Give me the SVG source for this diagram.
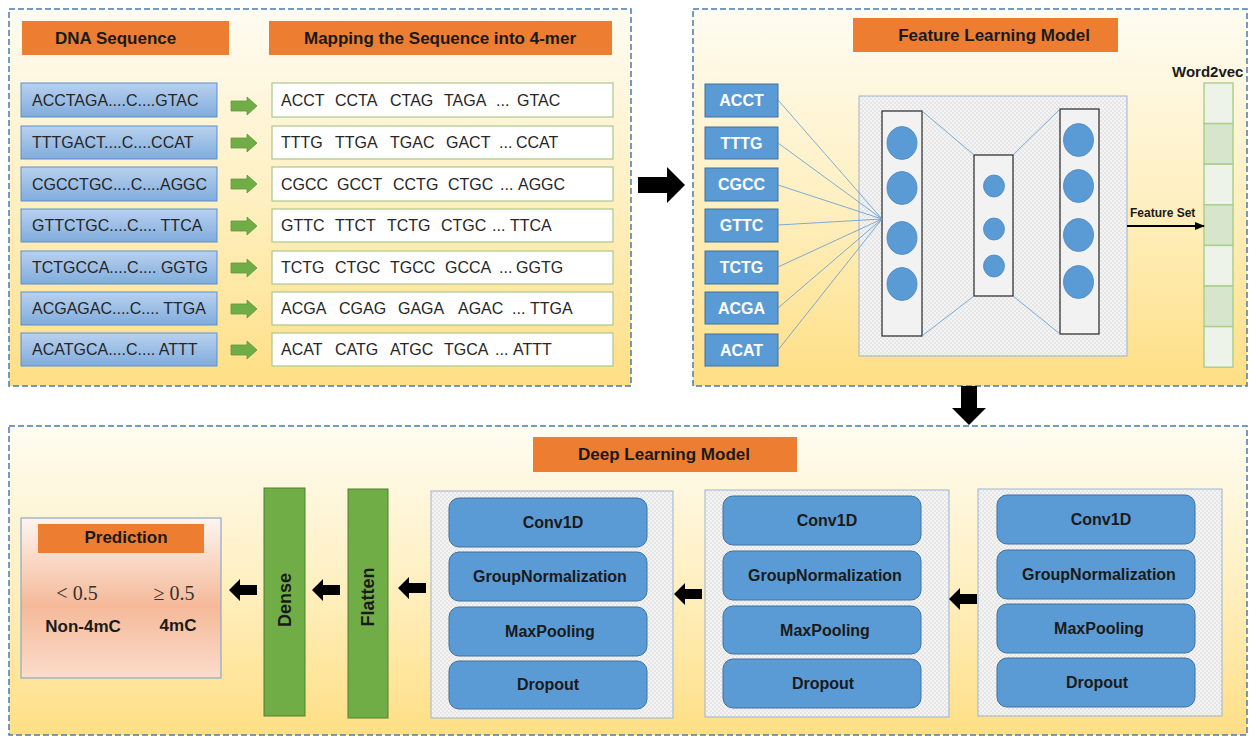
<svg xmlns="http://www.w3.org/2000/svg" width="1258" height="738" viewBox="0 0 1258 738">
<defs>
<linearGradient id="panelGrad" x1="0" y1="0" x2="0" y2="1">
<stop offset="0" stop-color="#fefcf2"/>
<stop offset="0.5" stop-color="#fff0c2"/>
<stop offset="1" stop-color="#ffdf85"/>
</linearGradient>
<linearGradient id="seqGrad" x1="0" y1="0" x2="0" y2="1">
<stop offset="0" stop-color="#b9d1ee"/>
<stop offset="1" stop-color="#80acdd"/>
</linearGradient>
<linearGradient id="predGrad" x1="0" y1="0" x2="0" y2="1">
<stop offset="0" stop-color="#fdf5f0"/>
<stop offset="0.55" stop-color="#f5b999"/>
<stop offset="1" stop-color="#fbdccb"/>
</linearGradient>
<pattern id="hatch" width="4" height="4" patternUnits="userSpaceOnUse">
<rect width="4" height="4" fill="#f4f4f4"/>
<rect width="2" height="2" fill="#e6e6e6"/>
<rect x="2" y="2" width="2" height="2" fill="#e6e6e6"/>
</pattern>
<marker id="blackHead" markerWidth="10" markerHeight="10" refX="9" refY="5" orient="auto" markerUnits="userSpaceOnUse">
<path d="M0,1 L10,5 L0,9 Z" fill="#000"/>
</marker>
<polygon id="leftArrow" points="0,0 11,-11 11,-5 28,-5 28,5 11,5 11,11" fill="#000"/>
<polygon id="greenArrow" points="0,-5 16,-5 16,-9 26,0 16,9 16,5 0,5" fill="#70ad47" stroke="#5f9a3a" stroke-width="0.8"/>
</defs>
<style>
.panel{fill:url(#panelGrad);stroke:#4a7bb0;stroke-width:1.5;stroke-dasharray:6 3}
.hdr{fill:#ed7d31}
.hdrTxt{font-family:"Liberation Sans",Arial,sans-serif;font-weight:bold;font-size:17px;fill:#1a1a1a}
.seq{fill:url(#seqGrad);stroke:#5b8fcf;stroke-width:1}
.seqTxt{font-family:"Liberation Sans",Arial,sans-serif;font-size:16px;fill:#262626}
.kbox{fill:#ffffff;stroke:#a9c98a;stroke-width:1.2}
.kmer{fill:#5b9bd5;stroke:#41719c;stroke-width:1}
.kmerTxt{font-family:"Liberation Sans",Arial,sans-serif;font-weight:bold;font-size:16px;fill:#ffffff}
.hat{fill:url(#hatch);stroke:#9db3cf;stroke-width:1}
.col{fill:#f2f2f2;stroke:#262626;stroke-width:1.2}
.neuron{fill:#5b9bd5;stroke:#4a88c4;stroke-width:0.8}
.wire{stroke:#5b9bd5;stroke-width:0.8;fill:none}
.cell{stroke:#a9d18e;stroke-width:1.5}
.layer{fill:#5b9bd5;stroke:#41719c;stroke-width:1}
.layerTxt{font-family:"Liberation Sans",Arial,sans-serif;font-weight:bold;font-size:16px;fill:#1a1a1a}
.bar{fill:#70ad47;stroke:#507e32;stroke-width:1}
.barTxt{font-family:"Liberation Sans",Arial,sans-serif;font-weight:bold;font-size:18px;fill:#1a1a1a}
.small{font-family:"Liberation Sans",Arial,sans-serif;font-weight:bold;font-size:12px;fill:#1a1a1a}
.serif{font-family:"Liberation Serif","Times New Roman",serif;font-size:20px;fill:#333333}
.bold17{font-family:"Liberation Sans",Arial,sans-serif;font-weight:bold;font-size:17px;fill:#1a1a1a}
</style>

<!-- Panels -->
<g id="panel-dna">
<rect class="panel" x="9" y="9" width="622" height="377"/>
<rect class="hdr" x="22" y="21" width="207" height="34"/>
<text class="hdrTxt" x="55" y="44">DNA Sequence</text>
<rect class="hdr" x="269" y="21" width="343" height="34"/>
<text class="hdrTxt" x="440" y="44" text-anchor="middle">Mapping the Sequence into 4-mer</text>
</g>
<g id="panel-feature">
<rect class="panel" x="693" y="9" width="554" height="377"/>
<rect class="hdr" x="853" y="18" width="265" height="34"/>
<text class="hdrTxt" x="994" y="41" text-anchor="middle">Feature Learning Model</text>
</g>
<g id="panel-deep">
<rect class="panel" x="9" y="426" width="1238" height="309"/>
<rect class="hdr" x="533" y="437" width="264" height="35"/>
<text class="hdrTxt" x="664" y="460" text-anchor="middle">Deep Learning Model</text>
</g>

<!-- DNA sequences -->
<g id="seq-1"><rect class="seq" x="21" y="83" width="196" height="34"/><text class="seqTxt" x="32" y="106">ACCTAGA....C....GTAC</text></g>
<g id="seq-2"><rect class="seq" x="21" y="126" width="196" height="33"/><text class="seqTxt" x="32" y="148">TTTGACT....C....CCAT</text></g>
<g id="seq-3"><rect class="seq" x="21" y="167" width="196" height="34"/><text class="seqTxt" x="32" y="190">CGCCTGC....C....AGGC</text></g>
<g id="seq-4"><rect class="seq" x="21" y="209" width="196" height="33"/><text class="seqTxt" x="32" y="231">GTTCTGC....C.... TTCA</text></g>
<g id="seq-5"><rect class="seq" x="21" y="251" width="196" height="33"/><text class="seqTxt" x="32" y="273">TCTGCCA....C.... GGTG</text></g>
<g id="seq-6"><rect class="seq" x="21" y="292" width="196" height="33"/><text class="seqTxt" x="32" y="314">ACGAGAC....C.... TTGA</text></g>
<g id="seq-7"><rect class="seq" x="21" y="333" width="196" height="33"/><text class="seqTxt" x="32" y="355">ACATGCA....C.... ATTT</text></g>

<!-- 4-mer rows -->
<g id="kmer-row-1"><rect class="kbox" x="272" y="83" width="341" height="34"/><text class="seqTxt" y="106"><tspan x="281">ACCT</tspan><tspan x="335">CCTA</tspan><tspan x="390">CTAG</tspan><tspan x="444">TAGA</tspan><tspan x="496">...</tspan><tspan x="517">GTAC</tspan></text></g>
<g id="kmer-row-2"><rect class="kbox" x="272" y="126" width="341" height="33"/><text class="seqTxt" y="148"><tspan x="281">TTTG</tspan><tspan x="335">TTGA</tspan><tspan x="390">TGAC</tspan><tspan x="446">GACT</tspan><tspan x="499">...</tspan><tspan x="516">CCAT</tspan></text></g>
<g id="kmer-row-3"><rect class="kbox" x="272" y="167" width="341" height="34"/><text class="seqTxt" y="190"><tspan x="281">CGCC</tspan><tspan x="337">GCCT</tspan><tspan x="393">CCTG</tspan><tspan x="448">CTGC</tspan><tspan x="500">...</tspan><tspan x="518">AGGC</tspan></text></g>
<g id="kmer-row-4"><rect class="kbox" x="272" y="209" width="341" height="33"/><text class="seqTxt" y="231"><tspan x="281">GTTC</tspan><tspan x="335">TTCT</tspan><tspan x="387">TCTG</tspan><tspan x="441">CTGC</tspan><tspan x="492">...</tspan><tspan x="510">TTCA</tspan></text></g>
<g id="kmer-row-5"><rect class="kbox" x="272" y="251" width="341" height="33"/><text class="seqTxt" y="273"><tspan x="281">TCTG</tspan><tspan x="335">CTGC</tspan><tspan x="390">TGCC</tspan><tspan x="445">GCCA</tspan><tspan x="499">...</tspan><tspan x="516">GGTG</tspan></text></g>
<g id="kmer-row-6"><rect class="kbox" x="272" y="292" width="341" height="33"/><text class="seqTxt" y="314"><tspan x="281">ACGA</tspan><tspan x="339">CGAG</tspan><tspan x="398">GAGA</tspan><tspan x="458">AGAC</tspan><tspan x="512">...</tspan><tspan x="530">TTGA</tspan></text></g>
<g id="kmer-row-7"><rect class="kbox" x="272" y="333" width="341" height="33"/><text class="seqTxt" y="355"><tspan x="281">ACAT</tspan><tspan x="335">CATG</tspan><tspan x="390">ATGC</tspan><tspan x="444">TGCA</tspan><tspan x="495">...</tspan><tspan x="513">ATTT</tspan></text></g>

<!-- 4-mer tokens in feature model -->
<g id="tok-ACCT"><rect class="kmer" x="705" y="84" width="73" height="33"/><text class="kmerTxt" x="741.5" y="106" text-anchor="middle">ACCT</text></g>
<g id="tok-TTTG"><rect class="kmer" x="705" y="127" width="73" height="32"/><text class="kmerTxt" x="741.5" y="149" text-anchor="middle">TTTG</text></g>
<g id="tok-CGCC"><rect class="kmer" x="705" y="168" width="73" height="33"/><text class="kmerTxt" x="741.5" y="190" text-anchor="middle">CGCC</text></g>
<g id="tok-GTTC"><rect class="kmer" x="705" y="209" width="73" height="33"/><text class="kmerTxt" x="741.5" y="231" text-anchor="middle">GTTC</text></g>
<g id="tok-TCTG"><rect class="kmer" x="705" y="251" width="73" height="33"/><text class="kmerTxt" x="741.5" y="273" text-anchor="middle">TCTG</text></g>
<g id="tok-ACGA"><rect class="kmer" x="705" y="292" width="73" height="32"/><text class="kmerTxt" x="741.5" y="314" text-anchor="middle">ACGA</text></g>
<g id="tok-ACAT"><rect class="kmer" x="705" y="334" width="73" height="32"/><text class="kmerTxt" x="741.5" y="356" text-anchor="middle">ACAT</text></g>

<!-- Neural network -->
<g id="autoencoder">
<rect class="hat" x="859" y="96" width="268" height="260"/>
<rect class="col" x="882" y="111" width="40" height="225"/>
<ellipse class="neuron" cx="902" cy="143" rx="15" ry="16.5"/>
<ellipse class="neuron" cx="902" cy="188" rx="15" ry="16.5"/>
<ellipse class="neuron" cx="902" cy="238" rx="15" ry="16.5"/>
<ellipse class="neuron" cx="902" cy="284" rx="15" ry="16.5"/>
<rect class="col" x="974" y="155" width="39" height="141"/>
<ellipse class="neuron" cx="994" cy="186" rx="10.5" ry="11"/>
<ellipse class="neuron" cx="994" cy="229" rx="10.5" ry="11"/>
<ellipse class="neuron" cx="994" cy="266" rx="10.5" ry="11"/>
<rect class="col" x="1060" y="109" width="39" height="225"/>
<ellipse class="neuron" cx="1078.5" cy="140" rx="15" ry="16.5"/>
<ellipse class="neuron" cx="1078.5" cy="186" rx="15" ry="16.5"/>
<ellipse class="neuron" cx="1078.5" cy="235" rx="15" ry="16.5"/>
<ellipse class="neuron" cx="1078.5" cy="282" rx="15" ry="16.5"/>
</g>

<g id="word2vec">
<text class="bold17" style="font-size:15px" x="1172" y="77">Word2vec</text>
<rect class="cell" x="1204" y="83" width="29" height="40.6" fill="#eef3ea"/>
<rect class="cell" x="1204" y="123.6" width="29" height="40.6" fill="#d6e5cb"/>
<rect class="cell" x="1204" y="164.2" width="29" height="40.6" fill="#eef3ea"/>
<rect class="cell" x="1204" y="204.8" width="29" height="40.6" fill="#d6e5cb"/>
<rect class="cell" x="1204" y="245.4" width="29" height="40.6" fill="#eef3ea"/>
<rect class="cell" x="1204" y="286" width="29" height="40.6" fill="#d6e5cb"/>
<rect class="cell" x="1204" y="326.6" width="29" height="40.6" fill="#eef3ea"/>
</g>

<!-- Deep learning blocks -->
<g id="block-A">
<rect class="hat" x="431" y="491" width="242" height="227"/>
<rect class="layer" x="449" y="498" width="198" height="49" rx="10"/><text class="layerTxt" x="553" y="528" text-anchor="middle">Conv1D</text>
<rect class="layer" x="449" y="552" width="198" height="49" rx="10"/><text class="layerTxt" x="550" y="582" text-anchor="middle">GroupNormalization</text>
<rect class="layer" x="449" y="607" width="198" height="49" rx="10"/><text class="layerTxt" x="550" y="637" text-anchor="middle">MaxPooling</text>
<rect class="layer" x="449" y="661" width="198" height="48" rx="10"/><text class="layerTxt" x="548" y="690" text-anchor="middle">Dropout</text>
</g>
<g id="block-B">
<rect class="hat" x="705" y="490" width="244" height="227"/>
<rect class="layer" x="723" y="496" width="198" height="49" rx="10"/><text class="layerTxt" x="827" y="526" text-anchor="middle">Conv1D</text>
<rect class="layer" x="723" y="551" width="198" height="49" rx="10"/><text class="layerTxt" x="825" y="581" text-anchor="middle">GroupNormalization</text>
<rect class="layer" x="723" y="606" width="198" height="48" rx="10"/><text class="layerTxt" x="825" y="636" text-anchor="middle">MaxPooling</text>
<rect class="layer" x="723" y="659" width="198" height="49" rx="10"/><text class="layerTxt" x="823" y="689" text-anchor="middle">Dropout</text>
</g>
<g id="block-C">
<rect class="hat" x="978" y="489" width="244" height="227"/>
<rect class="layer" x="997" y="495" width="198" height="49" rx="10"/><text class="layerTxt" x="1101" y="525" text-anchor="middle">Conv1D</text>
<rect class="layer" x="997" y="550" width="198" height="49" rx="10"/><text class="layerTxt" x="1099" y="580" text-anchor="middle">GroupNormalization</text>
<rect class="layer" x="997" y="604" width="198" height="49" rx="10"/><text class="layerTxt" x="1099" y="634" text-anchor="middle">MaxPooling</text>
<rect class="layer" x="997" y="658" width="198" height="49" rx="10"/><text class="layerTxt" x="1097" y="688" text-anchor="middle">Dropout</text>
</g>
<g id="flatten">
<rect class="bar" x="348" y="489" width="40" height="229"/>
<text class="barTxt" transform="translate(374,597) rotate(-90)" text-anchor="middle">Flatten</text>
</g>
<g id="dense">
<rect class="bar" x="264" y="488" width="41" height="228"/>
<text class="barTxt" transform="translate(291,600) rotate(-90)" text-anchor="middle">Dense</text>
</g>
<g id="prediction">
<rect x="21" y="518" width="200" height="160" fill="url(#predGrad)" stroke="#8ea9c1" stroke-width="1.2"/>
<rect class="hdr" x="38" y="524" width="166" height="29"/>
<text class="bold17" x="126" y="543" text-anchor="middle">Prediction</text>
<text class="serif" x="77" y="600" text-anchor="middle">&lt; 0.5</text>
<text class="serif" x="174" y="600" text-anchor="middle">≥ 0.5</text>
<text class="bold17" x="83" y="632" text-anchor="middle">Non-4mC</text>
<text class="bold17" x="178" y="631" text-anchor="middle">4mC</text>
</g>

<!-- Connectors -->
<g id="connectors">
<use href="#greenArrow" x="231" y="106"/>
<use href="#greenArrow" x="231" y="143"/>
<use href="#greenArrow" x="231" y="184"/>
<use href="#greenArrow" x="231" y="226"/>
<use href="#greenArrow" x="231" y="268"/>
<use href="#greenArrow" x="231" y="309"/>
<use href="#greenArrow" x="231" y="350"/>
<polygon points="638,177 667,177 667,167 685,185 667,203 667,193 638,193" fill="#000"/>
<polygon points="961,386 977,386 977,408 986,408 969,425 952,408 961,408" fill="#000"/>
<line class="wire" x1="778" y1="100" x2="882" y2="219"/>
<line class="wire" x1="778" y1="143" x2="882" y2="219"/>
<line class="wire" x1="778" y1="185" x2="882" y2="219"/>
<line class="wire" x1="778" y1="225" x2="882" y2="219"/>
<line class="wire" x1="778" y1="267" x2="882" y2="219"/>
<line class="wire" x1="778" y1="308" x2="882" y2="219"/>
<line class="wire" x1="778" y1="350" x2="882" y2="219"/>
<line class="wire" x1="922" y1="111" x2="974" y2="155"/>
<line class="wire" x1="922" y1="336" x2="974" y2="296"/>
<line class="wire" x1="1013" y1="155" x2="1060" y2="109"/>
<line class="wire" x1="1013" y1="296" x2="1060" y2="334"/>
<line x1="1127" y1="226" x2="1204" y2="226" stroke="#000" stroke-width="2" marker-end="url(#blackHead)"/>
<text class="small" x="1130" y="217">Feature Set</text>
<use href="#leftArrow" x="949" y="599"/>
<use href="#leftArrow" x="674" y="594"/>
<use href="#leftArrow" x="398" y="588"/>
<use href="#leftArrow" x="312" y="590"/>
<use href="#leftArrow" x="229" y="590"/>
</g>
</svg>
